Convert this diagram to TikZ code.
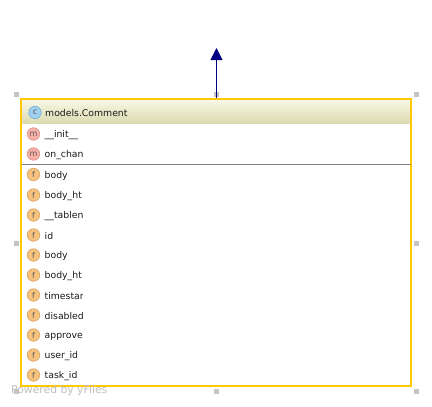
\documentclass[tikz,border=0pt]{standalone}
\usepackage{fontspec}
\setmainfont{DejaVu Sans}
\usetikzlibrary{arrows.meta}
\definecolor{boxyellow}{HTML}{FFC800}
\definecolor{navyline}{HTML}{000080}
\definecolor{handlegray}{HTML}{C4C4C4}
\definecolor{headtop}{HTML}{F9F9E8}
\definecolor{headbot}{HTML}{DADAB0}
\definecolor{ffill}{HTML}{F6C27E}
\definecolor{fdraw}{HTML}{D9A868}
\definecolor{mfill}{HTML}{F8AFA6}
\definecolor{mdraw}{HTML}{D99A92}
\definecolor{cfill}{HTML}{A0D0F0}
\definecolor{cdraw}{HTML}{7FB0D8}
\tikzset{
  x=1pt,y=-1pt,
  handle/.style={fill=handlegray,draw=none,minimum size=5pt,inner sep=0pt,outer sep=0pt},
  icon/.style={circle,minimum size=12.5pt,inner sep=0pt,line width=0.7pt,font=\fontsize{8}{8}\selectfont,text=black!65},
  ficon/.style={icon,fill=ffill,draw=fdraw},
  micon/.style={icon,fill=mfill,draw=mdraw},
  cicon/.style={icon,fill=cfill,draw=cdraw},
  rowtext/.style={anchor=west,inner sep=0pt,font=\fontsize{9.3}{11}\selectfont,text=black!90},
}
\begin{document}
\begin{tikzpicture}
\useasboundingbox (0,0) rectangle (432,407);
\fill[white] (0,0) rectangle (432,407);
% header
\shade[top color=headtop,bottom color=headbot] (21,99) rectangle (411,123.5);
% handles
\node[handle] (h1) at (16.5,94.5) {};
\node[handle] (h2) at (216.5,94.5) {};
\node[handle] (h3) at (416.5,94.5) {};
\node[handle] (h4) at (16.5,243) {};
\node[handle] (h5) at (416.5,243) {};
\node[handle] (h6) at (16.5,391.5) {};
\node[handle] (h7) at (216.5,391.5) {};
\node[handle] (h8) at (416.5,391.5) {};
% box
\node[draw=boxyellow,line width=2pt,outer sep=0pt,minimum width=390pt,minimum height=287pt,inner sep=0pt,anchor=north west] (box) at (21,99) {};
% connector
\coordinate (tip) at (216.5,48);
\draw[navyline,line width=1pt,-{Triangle[length=12pt,width=12pt]}] (216.5,98) -- (tip);
% separator
\coordinate (sepl) at (22,164.5);
\coordinate (sepr) at (410.5,164.5);
\draw[gray,line width=1pt] (sepl) -- (sepr);
% icons
\node[cicon] (ic) at (35,112.5) {c};
\node[micon] (im1) at (33.5,134) {m};
\node[micon] (im2) at (33.5,154) {m};
\foreach \n/\y in {1/174.5,2/195,3/215,4/235,5/255,6/275,7/295,8/315,9/335,10/355,11/375}
  \node[ficon] (if\n) at (33.5,\y) {f};
% title
\node[rowtext] (title) at (45,113) {models.Comment};
% clipped rows
\begin{scope}
\clip (0,0) rectangle (82,407);
\node[rowtext] (t1) at (44.5,135) {\_\_init\_\_};
\node[rowtext] (t2) at (44.5,155) {on\_chan};
\node[rowtext] (t3) at (44.5,175.5) {body};
\node[rowtext] (t4) at (44.5,196) {body\_ht};
\node[rowtext] (t5) at (44.5,216) {\_\_tablen};
\node[rowtext] (t6) at (44.5,236) {id};
\node[rowtext] (t7) at (44.5,256) {body};
\node[rowtext] (t8) at (44.5,276) {body\_ht};
\node[rowtext] (t9) at (44.5,296) {timestam};
\node[rowtext] (t10) at (44.5,316) {disabled};
\node[rowtext] (t11) at (44.5,336) {approved};
\node[rowtext] (t12) at (44.5,356) {user\_id};
\node[rowtext] (t13) at (44.5,376) {task\_id};
\end{scope}
% watermark
\node[anchor=west,inner sep=0pt,text=black!25,font=\fontsize{10.8}{12}\selectfont] (wm) at (11,391) {Powered by yFiles};
\end{tikzpicture}
\end{document}
